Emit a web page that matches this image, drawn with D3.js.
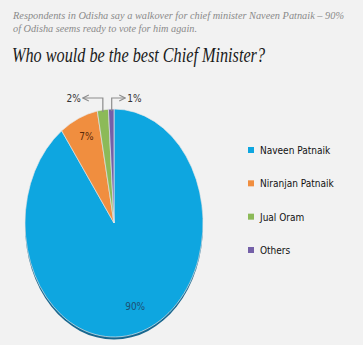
<!DOCTYPE html>
<head>
  <meta charset="utf-8">
  <script src="https://d3js.org/d3.v7.min.js"></script>
  <style>
  body,html {background:#f2f2f2; margin:0; width:363px; height:345px; overflow:hidden;}
  .sub {font-family:"Liberation Serif", serif; font-style:italic; font-size:10.8px; fill:#8a8a8a;}
  .title {font-family:"Liberation Serif", serif; font-style:italic; font-size:21px; fill:#1a1a1a;}
  .lbl {font-family:"DejaVu Sans Condensed", "Liberation Sans Narrow", sans-serif; font-size:10px;}
</style>
</head>
<body>
<svg></svg>
<script>

  const width = 363, height = 345;

  // data
  const names = ["Naveen Patnaik", "Niranjan Patnaik", "Jual Oram", "Others"];
  const shares = [90, 7, 2, 1];
  const colors = ["#0ea6e0", "#f08e3f", "#8cba58", "#7460a8"];

  const svg = d3.select("svg").attr("width", width).attr("height", height);

  // texts on top
  svg.append("text").attr("class", "sub").attr("x", 13).attr("y", 19)
    .attr("textLength", 331).attr("lengthAdjust", "spacingAndGlyphs")
    .text("Respondents in Odisha say a walkover for chief minister Naveen Patnaik – 90%");
  svg.append("text").attr("class", "sub").attr("x", 13).attr("y", 32)
    .attr("textLength", 184).attr("lengthAdjust", "spacingAndGlyphs")
    .text("of Odisha seems ready to vote for him again.");
  svg.append("text").attr("class", "title").attr("x", 12).attr("y", 62)
    .attr("textLength", 253).attr("lengthAdjust", "spacingAndGlyphs")
    .text("Who would be the best Chief Minister?");

  // pie, squashed into an ellipse
  const cx = 114, cy = 223, rx = 89, ry = 114;
  const pie = d3.pie().sort(null).value(d => d);
  const arcs = pie(shares);
  const arc = d3.arc().innerRadius(0).outerRadius(rx);

  const pg = svg.append("g").attr("transform", `translate(${cx},${cy}) scale(1,${ry/rx})`);

  // darker rim for the 3d look
  pg.append("ellipse").attr("cx", 0).attr("cy", 2).attr("rx", rx).attr("ry", rx)
    .attr("fill", "#17678f");

  pg.selectAll("path.slice").data(arcs).enter()
    .append("path").attr("class", "slice")
    .attr("d", arc)
    .attr("fill", (d, i) => colors[i])
    .attr("stroke", "#e8e8e8").attr("stroke-width", 0.6);

  // inside labels
  function lblPos(d, r) {
    const a = (d.startAngle + d.endAngle) / 2;
    return [cx + Math.sin(a) * r, cy - Math.cos(a) * r * ry / rx];
  }
  const p0 = lblPos(arcs[0], rx * 0.77);
  svg.append("text").attr("class", "lbl").attr("x", p0[0]).attr("y", p0[1] + 4)
    .attr("text-anchor", "middle").attr("fill", "#1d4f73").attr("font-size", 11)
    .text(shares[0] + "%");
  const p1 = lblPos(arcs[1], rx * 0.84);
  svg.append("text").attr("class", "lbl").attr("x", p1[0] + 2).attr("y", p1[1] + 5)
    .attr("text-anchor", "middle").attr("fill", "#5a2a0a").attr("font-size", 12)
    .text(shares[1] + "%");

  // callouts for the small slices
  const gray = "#8c8c8c";
  const callY = 98;
  const green = lblPos(arcs[2], rx);
  const purp = lblPos(arcs[3], rx);

  svg.append("defs").append("marker").attr("id", "ah")
    .attr("viewBox", "0 0 6 6").attr("refX", 5).attr("refY", 3)
    .attr("markerWidth", 6).attr("markerHeight", 6).attr("orient", "auto")
    .append("path").attr("d", "M0,0.5 L5,3 L0,5.5").attr("fill", "none").attr("stroke", gray).attr("stroke-width", 1);

  svg.append("path")
    .attr("d", `M${green[0]},${green[1] + 2} V${callY} H${green[0] - 20}`)
    .attr("fill", "none").attr("stroke", gray).attr("stroke-width", 1.2)
    .attr("marker-end", "url(#ah)");
  svg.append("path")
    .attr("d", `M${purp[0] + 0.5},${purp[1] + 2} V${callY} H${purp[0] + 14}`)
    .attr("fill", "none").attr("stroke", gray).attr("stroke-width", 1.2)
    .attr("marker-end", "url(#ah)");

  svg.append("text").attr("class", "lbl").attr("x", green[0] - 22).attr("y", callY + 4)
    .attr("text-anchor", "end").attr("fill", "#333").attr("font-size", 12)
    .text(shares[2] + "%");
  svg.append("text").attr("class", "lbl").attr("x", purp[0] + 16).attr("y", callY + 4)
    .attr("fill", "#333").attr("font-size", 12)
    .text(shares[3] + "%");

  // legend
  const ly = d3.scalePoint().domain(names).range([150, 250]);
  const lg = svg.selectAll(".leg").data(names).enter().append("g").attr("class", "leg")
    .attr("transform", d => `translate(248,${ly(d)})`);
  lg.append("rect").attr("x", 0).attr("y", -3).attr("width", 6).attr("height", 6)
    .attr("fill", (d, i) => colors[i]);
  lg.append("text").attr("class", "lbl").attr("x", 12).attr("y", 4)
    .attr("fill", "#111").text(d => d);

</script>
</body>
